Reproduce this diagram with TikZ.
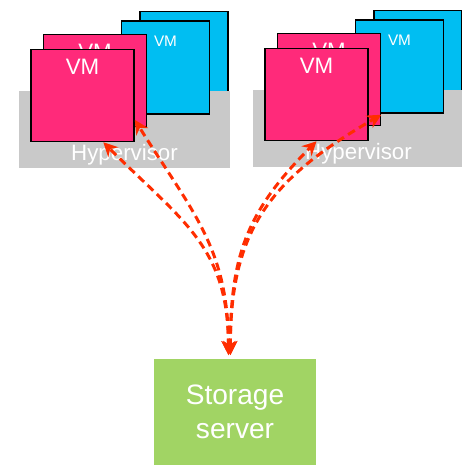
\documentclass[tikz,border=0pt]{standalone}
\usepackage{fontspec}
\setmainfont{Liberation Sans}
\usepackage{tikz}
\usepackage{xcolor}
\usetikzlibrary{positioning, arrows.meta}

\definecolor{vmpink}{RGB}{255,42,122}
\definecolor{vmblue}{RGB}{0,190,242}
\definecolor{hypgray}{RGB}{201,201,201}
\definecolor{storegreen}{RGB}{161,212,100}
\definecolor{linkred}{RGB}{255,45,0}

\tikzset{
  pinkvm/.style={rectangle, draw=black, line width=0.9pt, fill=vmpink, minimum width=2.06cm, minimum height=1.84cm, inner sep=0pt},
  bluevm/.style={rectangle, draw=black, line width=0.9pt, fill=vmblue, minimum width=1.76cm, minimum height=1.86cm, inner sep=0pt},
  hyp/.style={rectangle, fill=hypgray, minimum width=4.22cm, minimum height=1.54cm, inner sep=0pt},
  biglab/.style={anchor=north, inner sep=0pt, yshift=-5.7pt, text=white, font=\fontsize{12.7}{15}\selectfont},
  smalllab/.style={anchor=north, inner sep=0pt, yshift=-8.5pt, text=white, font=\fontsize{8.7}{10}\selectfont},
  hyplab/.style={anchor=base, inner sep=0pt, yshift=4.5pt, text=white, font=\fontsize{12.7}{15}\selectfont},
  link/.style={draw=linkred, line width=1.7pt, dash pattern=on 4.5pt off 2.8pt, {Stealth[length=8pt,width=8pt]}-{Stealth[length=8pt,width=8pt]}, shorten <=2pt}
}

\begin{document}
\begin{tikzpicture}[x=0.02cm, y=0.02cm]
    \useasboundingbox (0,0) rectangle (461,465);

    % left host
    \node[bluevm] (vmLbb) at (184, 407) {};
    \node[hyp, label={[hyplab]south:Hypervisor}] (hypL) at (124.5, 335.5) {};
    \node[bluevm, label={[smalllab]north:VM}] (vmLfb) at (165.5, 397.5) {};
    \node[pinkvm, label={[biglab]north:VM}] (vmLbp) at (95, 384.5) {};
    \node[pinkvm, label={[biglab]north:VM}] (vmLfp) at (82.5, 369.5) {};

    % right host
    \node[bluevm] (vmRbb) at (418, 408) {};
    \node[hyp, label={[hyplab]south:Hypervisor}] (hypR) at (358.5, 336.5) {};
    \node[bluevm, label={[smalllab]north:VM}] (vmRfb) at (399.5, 398.5) {};
    \node[pinkvm, label={[biglab]north:VM}] (vmRbp) at (329, 385.5) {};
    \node[pinkvm, label={[biglab]north:VM}] (vmRfp) at (316.5, 370.5) {};

    % storage
    \node[rectangle, fill=storegreen, minimum width=3.24cm, minimum height=2.12cm, align=center, text=white, font=\fontsize{16}{19}\selectfont] (store) at (235, 53) {Storage\\server};

    \draw[link] (store.97) to[out=90, in=-45, looseness=1.15] (vmLfp.-66);
    \draw[link] (store.97) to[out=90, in=-58, looseness=1.1] (vmLfp.-25);
    \draw[link] (store.95) to[out=90, in=-135, looseness=1.1] (vmRfp.south);
    \draw[link] (store.95) to[out=90, in=-150, looseness=1.15] (vmRbp.-34);
\end{tikzpicture}
\end{document}
